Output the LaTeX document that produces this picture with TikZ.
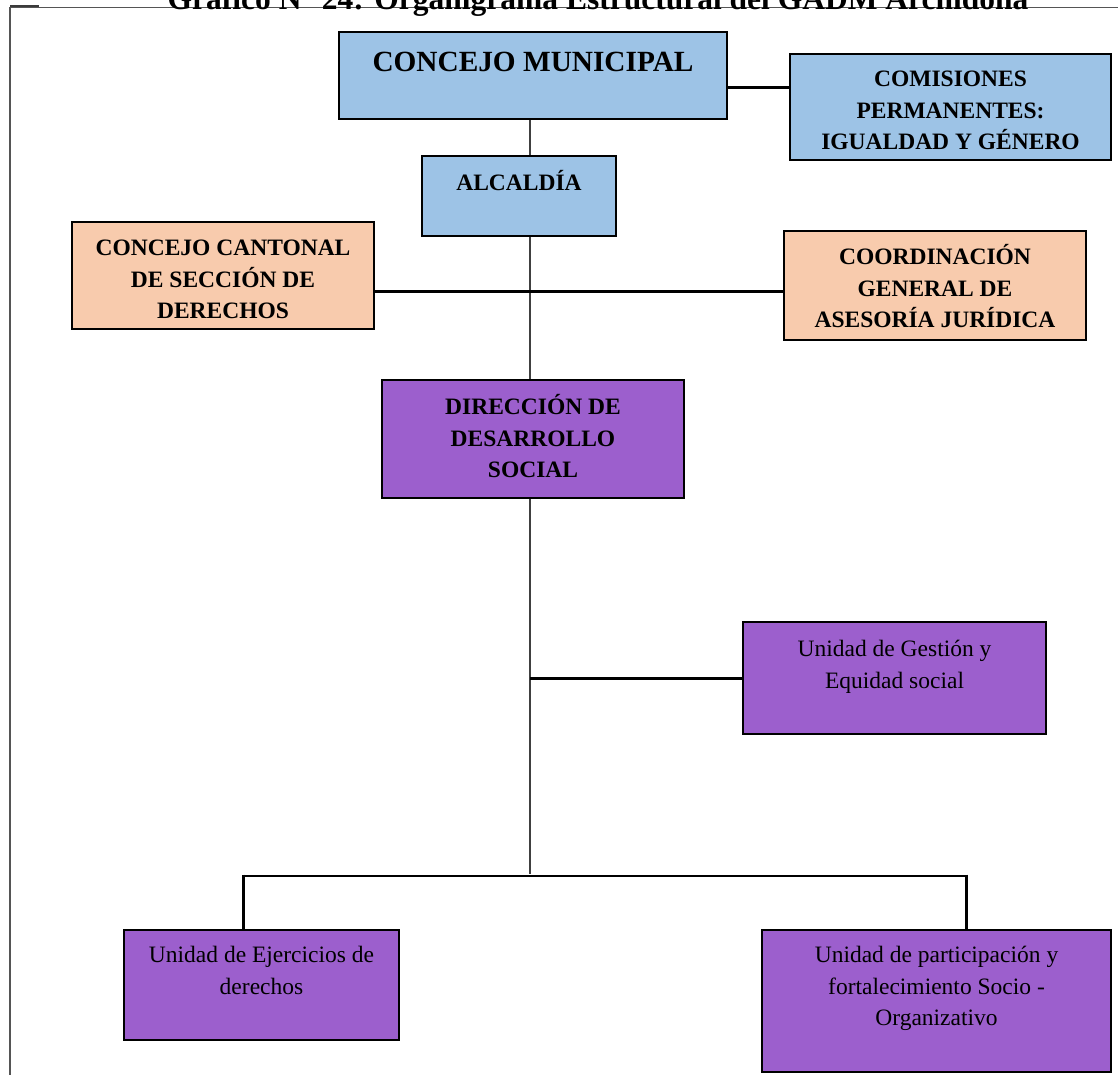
\documentclass[tikz,border=0pt]{standalone}
\usepackage{fontspec}
\setmainfont{Liberation Serif}
\pgfdeclarelayer{background}
\pgfsetlayers{background,main}
\definecolor{cmblue}{HTML}{9DC3E6}
\definecolor{peach}{HTML}{F8CBAD}
\definecolor{violet}{HTML}{9C5FCD}
\definecolor{framegray}{HTML}{555555}
\begin{document}
\begin{tikzpicture}[x=1pt,y=-1pt,
  box/.style={draw=black,line width=2pt,anchor=north west,inner sep=0pt,outer sep=0pt},
  bluebox/.style={box,fill=cmblue},
  peachbox/.style={box,fill=peach},
  violetbox/.style={box,fill=violet},
  headtext/.style={anchor=north,inner sep=0pt,align=center,
    font=\bfseries\fontsize{23.5}{31.8}\selectfont},
  bodytext/.style={anchor=north,inner sep=0pt,align=center,
    font=\fontsize{23.5}{31.8}\selectfont},
  thinlink/.style={draw=black!75,line width=1.5pt},
  thicklink/.style={draw=black,line width=3pt},
  buslink/.style={draw=black,line width=1.6pt}]

\useasboundingbox (0,0) rectangle (1118,1074);
\clip (0,0) rectangle (1118,1074);

% page frame and heading
\draw[framegray,line width=1.3pt] (10,1080) -- (10,7.5) -- (1125,7.5);
\draw[framegray!70!black,line width=2pt] (10,6) -- (39,6);
\node[anchor=base,inner sep=0pt,font=\bfseries\fontsize{31.5}{31.5}\selectfont]
  (title) at (598,9) {Gráfico N° 24: Organigrama Estructural del GADM Archidona};

% boxes
\node[bluebox,minimum width=388pt,minimum height=87pt] (cm) at (339,32) {};
\node[bluebox,minimum width=321pt,minimum height=106pt] (com) at (790,54) {};
\node[bluebox,minimum width=194pt,minimum height=80pt] (alc) at (422,156) {};
\node[peachbox,minimum width=302pt,minimum height=107pt] (ccs) at (72,222) {};
\node[peachbox,minimum width=302pt,minimum height=109pt] (cgj) at (784,231) {};
\node[violetbox,minimum width=302pt,minimum height=118pt] (dds) at (382,380) {};
\node[violetbox,minimum width=303pt,minimum height=112pt] (ug) at (743,622) {};
\node[violetbox,minimum width=275pt,minimum height=110pt] (ue) at (124,930) {};
\node[violetbox,minimum width=349pt,minimum height=142pt] (up) at (762,930) {};

% box labels
\node[anchor=north,inner sep=0pt,font=\bfseries\fontsize{29.3}{34}\selectfont]
  (cm-t) at ([yshift=-10pt]cm.north) {\rule{0pt}{29pt}CONCEJO MUNICIPAL};
\node[headtext] (com-t) at ([yshift=-8pt]com.north)
  {\rule{0pt}{24pt}COMISIONES\\PERMANENTES:\\IGUALDAD Y GÉNERO};
\node[headtext] (alc-t) at ([yshift=-10pt]alc.north) {\rule{0pt}{24pt}ALCALDÍA};
\node[headtext] (ccs-t) at ([yshift=-9pt]ccs.north)
  {\rule{0pt}{24pt}CONCEJO CANTONAL\\DE SECCIÓN DE\\DERECHOS};
\node[headtext] (cgj-t) at ([yshift=-9pt]cgj.north)
  {\rule{0pt}{24pt}COORDINACIÓN\\GENERAL DE\\ASESORÍA JURÍDICA};
\node[headtext] (dds-t) at ([yshift=-10pt]dds.north)
  {\rule{0pt}{24pt}DIRECCIÓN DE\\DESARROLLO\\SOCIAL};
\node[bodytext] (ug-t) at ([yshift=-10pt]ug.north)
  {\rule{0pt}{24pt}Unidad de Gestión y\\Equidad social};
\node[bodytext] (ue-t) at ([yshift=-8pt]ue.north)
  {\rule{0pt}{24pt}Unidad de Ejercicios de\\derechos};
\node[bodytext] (up-t) at ([yshift=-8pt]up.north)
  {\rule{0pt}{24pt}Unidad de participación y\\fortalecimiento Socio -\\Organizativo};

% junction points
\coordinate (trunk) at (530,0);
\coordinate (trunkend) at (530,874);
\coordinate (busL) at (243,876);
\coordinate (busR) at (966,876);

% connectors
\begin{pgfonlayer}{background}
  \draw[thinlink] (cm.south -| trunk) -- (trunkend);
  \draw[thicklink] (cm.east |- 0,87.5) -- (com.west |- 0,87.5);
  \draw[thicklink] (ccs.east |- 0,291.5) -- (cgj.west |- 0,291.5);
  \draw[thicklink] (trunk |- ug.west) -- (ug.west);
  \draw[buslink] (busL) -- (busR);
  \draw[thicklink] ([yshift=1.5pt]busL) -- (ue.north -| busL);
  \draw[thicklink] ([yshift=1.5pt]busR) -- (up.north -| busR);
\end{pgfonlayer}
\end{tikzpicture}
\end{document}
